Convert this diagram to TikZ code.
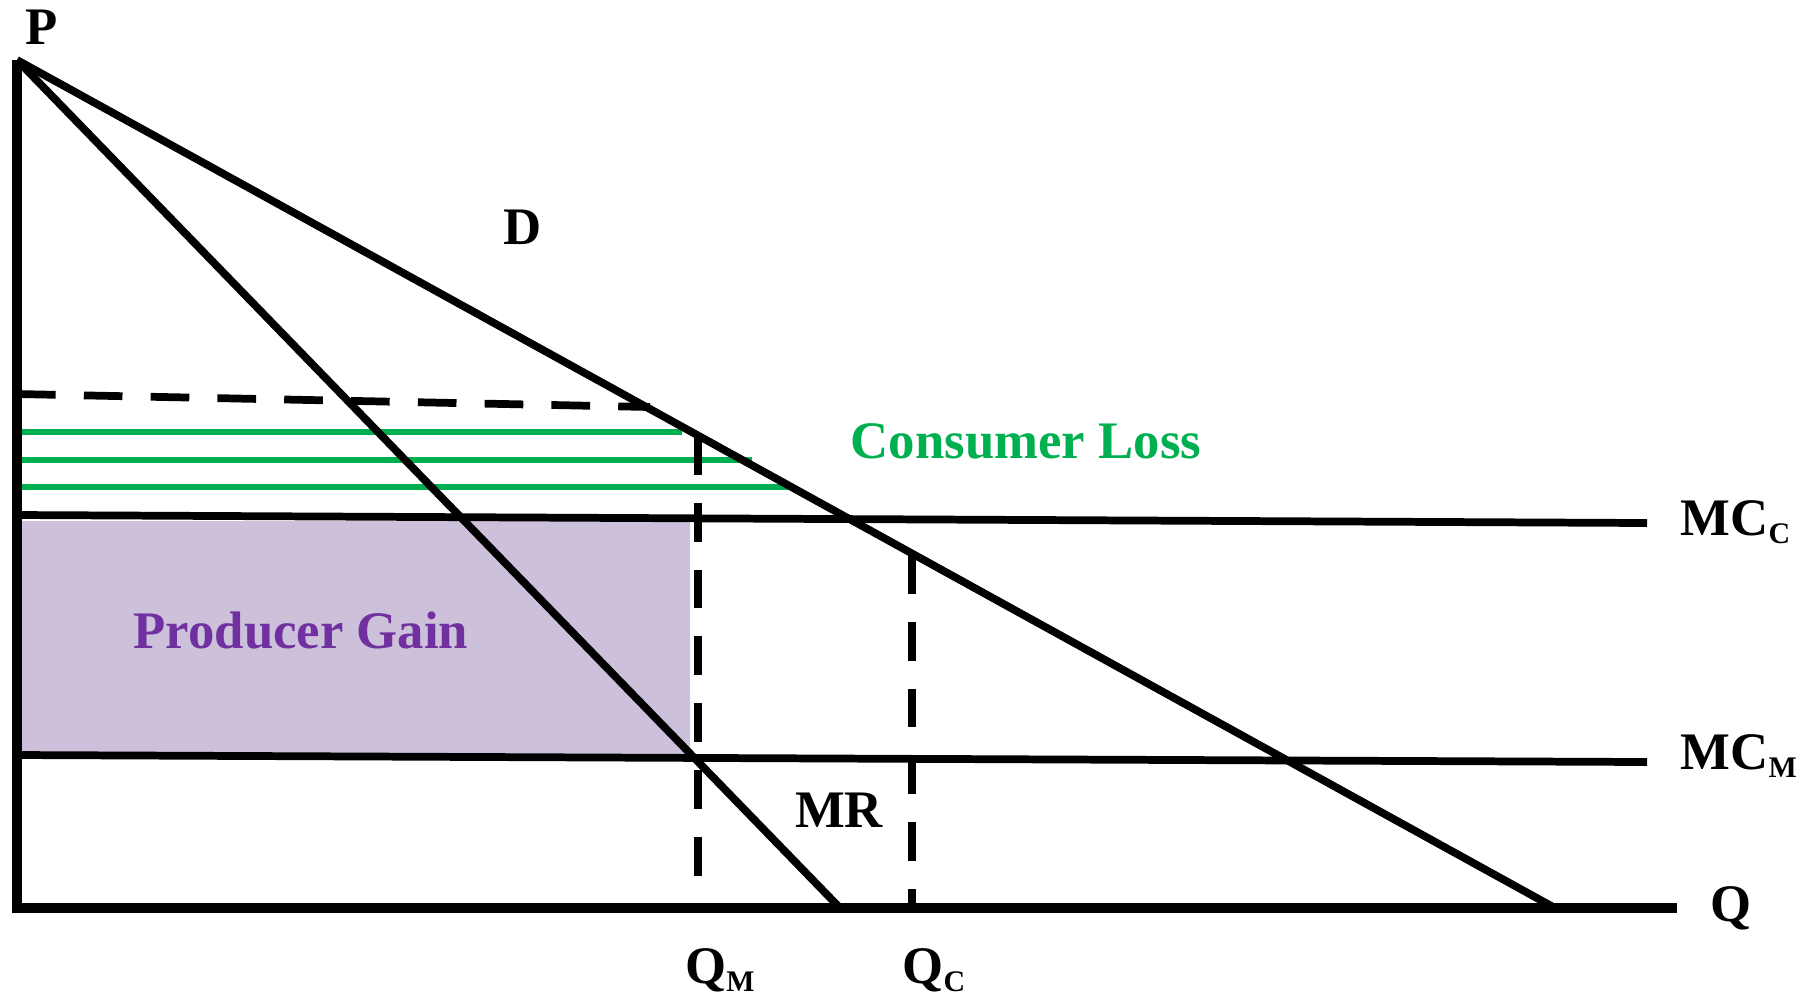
\documentclass[tikz,border=0pt]{standalone}
\usepackage{fontspec}
\setmainfont{Liberation Serif}
\newcommand\mysub[1]{\raisebox{-0.35ex}{\fontsize{8.5}{8.5}\selectfont #1}}
\definecolor{lossgreen}{RGB}{0,176,80}
\definecolor{gainfill}{RGB}{204,192,218}
\definecolor{gaintext}{RGB}{112,48,160}
\tikzset{
  ax/.style={line width=2.6pt, black},
  curve/.style={line width=2.2pt, black},
  dashln/.style={line width=2.2pt, black, dash pattern=on 11pt off 8pt},
  gline/.style={line width=1.7pt, lossgreen},
  lbl/.style={font=\fontsize{15}{18}\selectfont\bfseries, inner sep=0pt},
}
\begin{document}
\begin{tikzpicture}[x=0.01cm, y=-0.01cm]
\useasboundingbox (0,0) rectangle (1800,996);
% key points
\coordinate (O) at (17,908);
\coordinate (Ptop) at (17,60);
\coordinate (Qend) at (1677,908);
\coordinate (Dend) at (1555,908);
\coordinate (MRend) at (840,908);
\coordinate (mccL) at (17,515);
\coordinate (mccR) at (1647,523);
\coordinate (mcmL) at (17,755);
\coordinate (mcmR) at (1647,762);
\coordinate (pmL) at (17,394);
\coordinate (pmR) at (650,407);
\coordinate (qmT) at (698,436);
\coordinate (qmB) at (698,908);
\coordinate (qcT) at (912,555);
\coordinate (qcB) at (912,908);
\coordinate (g1L) at (17,432); \coordinate (g1R) at (682,432);
\coordinate (g2L) at (17,460); \coordinate (g2R) at (752,460);
\coordinate (g3L) at (17,487); \coordinate (g3R) at (788,487);
% producer gain area
\fill[gainfill] (17,521) rectangle (690,757);
% green consumer loss lines
\draw[gline] (g1L) -- (g1R);
\draw[gline] (g2L) -- (g2R);
\draw[gline] (g3L) -- (g3R);
% dashed lines
\draw[dashln] (pmL) -- (pmR);
\draw[dashln] (qmT) -- (qmB);
\draw[dashln] (qcT) -- (qcB);
% MC lines
\draw[curve] (mccL) -- (mccR);
\draw[curve] (mcmL) -- (mcmR);
% demand and MR
\draw[curve] (Ptop) -- (Dend);
\draw[curve] (Ptop) -- (MRend);
% axes
\draw[ax] (Ptop) -- (O) -- (Qend);
% labels
\node[lbl] (Plbl) at (42,27) {P};
\node[lbl] (Qlbl) at (1731,908) {Q};
\node[lbl] (Dlbl) at (523,227) {D};
\node[lbl] (MRlbl) at (839,810) {MR};
\node[lbl, anchor=west] (MCClbl) at (1680,522) {MC\mysub{C}};
\node[lbl, anchor=west] (MCMlbl) at (1680,756) {MC\mysub{M}};
\node[lbl] (QMlbl) at (720,970) {Q\mysub{M}};
\node[lbl] (QClbl) at (934,970) {Q\mysub{C}};
\node[lbl, text=lossgreen] (CLlbl) at (1026,441) {Consumer Loss};
\node[lbl, text=gaintext] (PGlbl) at (301,631) {Producer Gain};
\end{tikzpicture}
\end{document}
